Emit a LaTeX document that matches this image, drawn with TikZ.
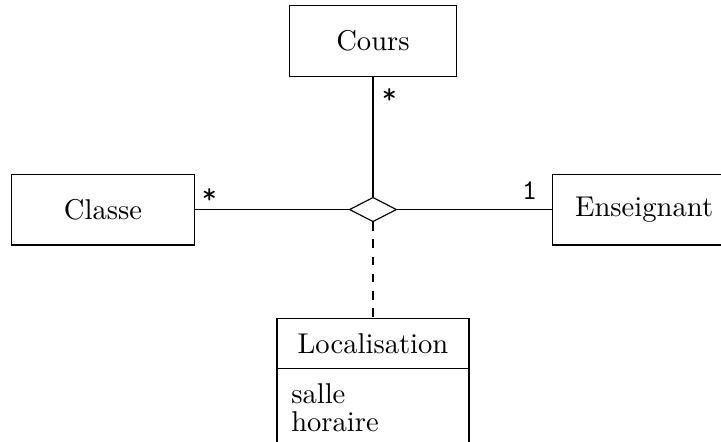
\documentclass[tikz,border=0pt]{standalone}
\usepackage{tikz}
\usetikzlibrary{positioning, calc, shapes.geometric, shapes.multipart}
\tikzset{
  classbox/.style={draw, rectangle, minimum height=0.87cm, inner sep=5pt},
  assocdiamond/.style={draw, diamond, minimum width=0.58cm, minimum height=0.30cm, inner sep=0pt},
  multlabel/.style={font=\ttfamily, inner sep=1pt}
}

\begin{document}
\begin{tikzpicture}
      \useasboundingbox (0,0) rectangle (8.857,-5.418);
      %% Classes
      \node[classbox, minimum width=2.06cm] (cours) at (4.582,-0.504) {Cours};
      \node[classbox, minimum width=2.24cm] (classe) at (1.265,-2.574) {Classe};
      \node[classbox, minimum width=2.24cm] (enseignant) at (7.912,-2.574) {Enseignant};
      %% n-ary association
      \node[assocdiamond] (assoc) at (4.582,-2.574) {};
      \draw (cours.south) -- (assoc.north);
      \draw (classe.east) -- (assoc.west);
      \draw (assoc.east) -- (enseignant.west);
      %% Association class
      \node[draw, rectangle split, rectangle split parts=2,
            rectangle split part align={center,left},
            minimum width=2.36cm, inner sep=5pt, anchor=north] (localisation) at (4.582,-3.907)
            {Localisation \nodepart{two} \renewcommand{\arraystretch}{0.82}%
             \begin{tabular}{@{}l@{}}salle\\horaire\end{tabular}};
      \draw[dashed] (assoc.south) -- (localisation.north);
      %% Multiplicities
      \node[multlabel] (multcours) at ($(cours.south)+(0.2,-0.23)$) {*};
      \node[multlabel] (multclasse) at ($(classe.east)+(0.18,0.17)$) {*};
      \node[multlabel] (multenseignant) at ($(enseignant.west)+(-0.28,0.23)$) {1};
    \end{tikzpicture}
\end{document}
